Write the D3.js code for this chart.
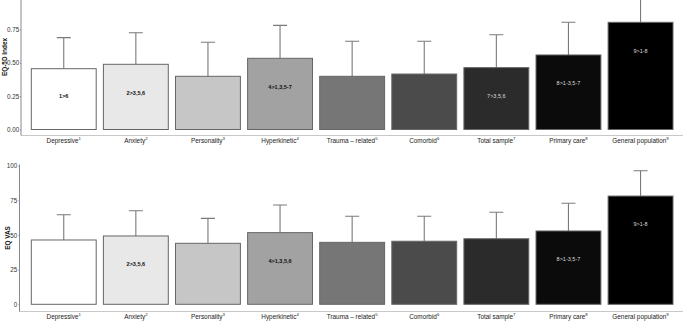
<!DOCTYPE html>
<html><head><meta charset="utf-8">
<script src="https://cdn.jsdelivr.net/npm/d3@7/dist/d3.min.js"></script>
<style>
html,body{margin:0;padding:0;background:#fff;}
text{font-family:"Liberation Sans",Arial,sans-serif;}
</style></head>
<body><svg id="c" width="685" height="329"></svg>
<script>
const categories = ["Depressive","Anxiety","Personality","Hyperkinetic","Trauma \u2013 related","Comorbid","Total sample","Primary care","General population"];
const superscripts = ["1","2","3","4","5","6","7","8","9"];
const fills = ["#ffffff","#e8e8e8","#c6c6c6","#a2a2a2","#767676","#4b4b4b","#2b2b2b","#0b0b0b","#000000"];

const eq5dMean = [0.456,0.489,0.399,0.534,0.399,0.416,0.464,0.559,0.804];
const eq5dUpper = [0.689,0.726,0.654,0.781,0.662,0.662,0.711,0.804,1.0];
const eq5dTicks = [0,0.25,0.5,0.75];
const eq5dNotes = [["1>6",0.25],["2>3,5,6",0.275],[null,0],["4>1,3,5-7",0.32],[null,0],[null,0],["7>3,5,6",0.25],["8>1-3,5-7",0.345],["9>1-8",0.59]];

const vasMean = [46.4,49.3,44.0,51.7,44.7,45.5,47.3,52.9,78.1];
const vasUpper = [64.6,67.5,62.0,71.6,63.5,63.5,66.4,72.9,96.4];
const vasTicks = [0,25,50,75,100];
const vasNotes = [[null,0],["2>3,5,6",29],[null,0],["4>1,3,5,6",31.5],[null,0],[null,0],[null,0],["8>1-3,5-7",32.5],["9>1-8",58]];

const svg = d3.select("#c");

function panel(cfg){
  const g = svg.append("g");
  const x = d3.scaleBand().domain(categories).range([27.7,676.6]).paddingInner(0.1).paddingOuter(0.05);
  const y = d3.scaleLinear().domain(cfg.domain).range(cfg.yRange);
  const cid = "clip"+cfg.id;
  svg.append("clipPath").attr("id",cid).append("rect").attr("x",0).attr("y",cfg.clipTop).attr("width",685).attr("height",cfg.axisY-cfg.clipTop);
  g.append("line").attr("x1",cfg.axisX).attr("x2",683).attr("y1",cfg.axisY).attr("y2",cfg.axisY).attr("stroke","#c8c8c8").attr("stroke-width",1.2);
  const ya = g.append("g").attr("transform",`translate(${cfg.axisX},0)`)
    .call(d3.axisLeft(y).tickValues(cfg.ticks).tickFormat(cfg.fmt).tickSize(1).tickPadding(cfg.pad));
  ya.select(".domain").remove();
  ya.selectAll(".tick line").attr("stroke","#888");
  ya.selectAll(".tick text").attr("font-size",6.3).attr("fill","#333").style("font-family","Liberation Sans, Arial, sans-serif");
  g.append("line").attr("x1",cfg.axisX).attr("x2",cfg.axisX).attr("y1",cfg.clipTop).attr("y2",cfg.axisY).attr("stroke","#888").attr("stroke-width",1);
  g.append("text").attr("transform",`translate(${cfg.titleX},${cfg.titleY}) rotate(-90)`)
    .attr("text-anchor","middle").attr("font-size",6.4).attr("font-weight","bold").attr("fill","#111").text(cfg.title);
  const pg = g.append("g").attr("clip-path",`url(#${cid})`);
  const eb = pg.selectAll("g.eb").data(categories).join("g");
  eb.append("line").attr("x1",d=>x(d)+x.bandwidth()/2).attr("x2",d=>x(d)+x.bandwidth()/2)
    .attr("y1",(d,i)=>y(cfg.mean[i])).attr("y2",(d,i)=>y(cfg.upper[i])).attr("stroke","#7a7a7a").attr("stroke-width",1.1);
  eb.append("line").attr("x1",d=>x(d)+x.bandwidth()/2-7).attr("x2",d=>x(d)+x.bandwidth()/2+7)
    .attr("y1",(d,i)=>y(cfg.upper[i])).attr("y2",(d,i)=>y(cfg.upper[i])).attr("stroke","#7a7a7a").attr("stroke-width",1.1);
  pg.selectAll("rect.bar").data(categories).join("rect").attr("class","bar")
    .attr("x",d=>x(d)).attr("width",x.bandwidth())
    .attr("y",(d,i)=>y(cfg.mean[i])).attr("height",(d,i)=>y(0)-y(cfg.mean[i]))
    .attr("fill",(d,i)=>fills[i]).attr("stroke","#666").attr("stroke-width",1);
  g.selectAll("text.note").data(categories).join("text").attr("class","note")
    .attr("x",d=>x(d)+x.bandwidth()/2).attr("y",(d,i)=>y(cfg.notes[i][1])).attr("dy","0.35em")
    .attr("text-anchor","middle").attr("font-size",5.5).attr("font-weight",(d,i)=>i>=6?"normal":"bold")
    .attr("fill",(d,i)=>i>=6?"#dddddd":"#111111").text((d,i)=>cfg.notes[i][0]||"");
  const xl = g.selectAll("text.xl").data(categories).join("text").attr("class","xl")
    .attr("x",d=>x(d)+x.bandwidth()/2).attr("y",cfg.labelY).attr("text-anchor","middle")
    .attr("font-size",6.4).attr("fill","#222");
  xl.append("tspan").text(d=>d);
  xl.append("tspan").attr("font-size",4.3).attr("dy",-3).text((d,i)=>superscripts[i]);
}

panel({id:1,domain:[0,0.75],yRange:[129.5,29.5],clipTop:0,axisX:21,axisY:135.5,ticks:eq5dTicks,pad:0.8,
  fmt:d3.format(".2f"),title:"EQ-5D Index",titleX:7,titleY:57,mean:eq5dMean,upper:eq5dUpper,notes:eq5dNotes,labelY:143});
panel({id:2,domain:[0,100],yRange:[304.3,165.7],clipTop:164.5,axisX:19.5,axisY:311.5,ticks:vasTicks,pad:1.2,
  fmt:d3.format("d"),title:"EQ VAS",titleX:10,titleY:238,mean:vasMean,upper:vasUpper,notes:vasNotes,labelY:318.5});
</script></body></html>
